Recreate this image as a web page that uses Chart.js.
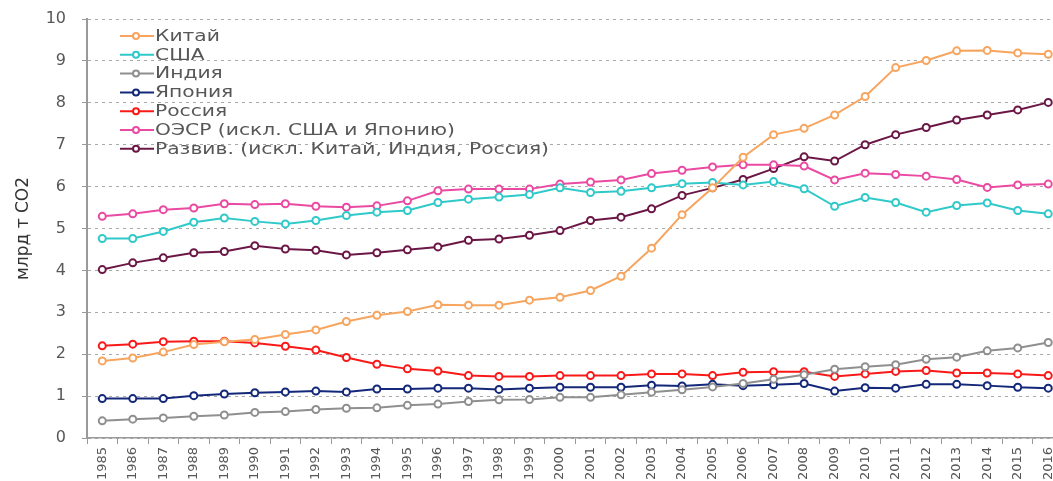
<!DOCTYPE html>
<html lang="ru">
<head>
<meta charset="utf-8">
<title>Выбросы CO2</title>
<script src="https://cdn.jsdelivr.net/npm/chart.js@4.4.1/dist/chart.umd.min.js"></script>
<style>
    html, body { margin: 0; padding: 0; background: #fff; overflow: hidden; }
    #caja { width: 1069px; height: 481px; }
</style>
</head>
<body>
<div id="caja"><canvas id="chart-co2"></canvas></div>
<script>
const anios = [
    "1985", "1986", "1987", "1988", "1989", "1990", "1991", "1992",
    "1993", "1994", "1995", "1996", "1997", "1998", "1999", "2000",
    "2001", "2002", "2003", "2004", "2005", "2006", "2007", "2008",
    "2009", "2010", "2011", "2012", "2013", "2014", "2015", "2016",
];
const kitai = [1.84, 1.91, 2.05, 2.23, 2.30, 2.35, 2.47, 2.58, 2.78, 2.93, 3.02, 3.18, 3.17, 3.17, 3.29, 3.36,
    3.52, 3.86, 4.53, 5.33, 5.97, 6.70, 7.24, 7.39, 7.71, 8.15, 8.84, 9.01, 9.24, 9.25, 9.19, 9.16];
const ssha = [4.76, 4.76, 4.93, 5.15, 5.25, 5.17, 5.11, 5.19, 5.31, 5.39, 5.43, 5.62, 5.70, 5.75, 5.81, 5.97,
    5.86, 5.89, 5.97, 6.07, 6.10, 6.04, 6.12, 5.95, 5.53, 5.74, 5.62, 5.39, 5.55, 5.61, 5.43, 5.35];
const indiya = [0.41, 0.45, 0.48, 0.52, 0.55, 0.61, 0.63, 0.68, 0.71, 0.72, 0.78, 0.81, 0.87, 0.91, 0.92, 0.97,
    0.97, 1.03, 1.09, 1.15, 1.22, 1.30, 1.40, 1.51, 1.64, 1.70, 1.75, 1.88, 1.93, 2.08, 2.15, 2.28];
const yaponiya = [0.94, 0.94, 0.94, 1.01, 1.05, 1.08, 1.10, 1.12, 1.10, 1.17, 1.17, 1.19, 1.19, 1.16, 1.19, 1.21,
    1.21, 1.21, 1.26, 1.24, 1.28, 1.25, 1.27, 1.30, 1.12, 1.20, 1.19, 1.28, 1.28, 1.25, 1.21, 1.19];
const rossiya = [2.20, 2.24, 2.30, 2.31, 2.31, 2.27, 2.19, 2.10, 1.92, 1.76, 1.65, 1.60, 1.49, 1.47, 1.47, 1.49,
    1.49, 1.49, 1.53, 1.53, 1.49, 1.57, 1.58, 1.58, 1.47, 1.53, 1.59, 1.61, 1.55, 1.55, 1.53, 1.49];
const oesr = [5.29, 5.35, 5.45, 5.49, 5.59, 5.57, 5.59, 5.53, 5.51, 5.54, 5.66, 5.90, 5.94, 5.94, 5.94, 6.06,
    6.11, 6.16, 6.31, 6.39, 6.47, 6.52, 6.52, 6.49, 6.16, 6.32, 6.29, 6.25, 6.17, 5.98, 6.04, 6.06];
const razviv = [4.02, 4.18, 4.30, 4.42, 4.45, 4.59, 4.51, 4.48, 4.37, 4.42, 4.49, 4.56, 4.72, 4.75, 4.84, 4.95,
    5.19, 5.27, 5.47, 5.79, 5.97, 6.17, 6.43, 6.71, 6.61, 7.00, 7.24, 7.41, 7.59, 7.71, 7.83, 8.01];
const yTicks = [0, 1, 2, 3, 4, 5, 6, 7, 8, 9, 10];

const gris = "#575757";

function serie(label, data, color) {
    return {
        label: label,
        data: data,
        borderColor: color,
        backgroundColor: "#fff",
        borderWidth: 2,
        tension: 0,
        pointRadius: 3.5,
        pointHoverRadius: 3.5,
        pointBorderWidth: 2,
        pointBackgroundColor: "#fff",
        pointBorderColor: color,
    };
}

// leyenda dentro del area, linea + circulo como en el original
const leyendaPlugin = {
    id: "leyendaLineas",
    afterDraw(chart) {
        const ctx = chart.ctx;
        const area = chart.chartArea;
        ctx.save();
        ctx.font = "15px 'DejaVu Sans'";
        ctx.textBaseline = "middle";
        ctx.textAlign = "left";
        chart.data.datasets.forEach((ds, i) => {
            const y = area.top + 17 + i * 18.8;
            const x = area.left + 33;
            ctx.strokeStyle = ds.borderColor;
            ctx.lineWidth = 2;
            ctx.beginPath();
            ctx.moveTo(x, y);
            ctx.lineTo(x + 34, y);
            ctx.stroke();
            ctx.beginPath();
            ctx.arc(x + 16, y, 3, 0, Math.PI * 2);
            ctx.fillStyle = "#fff";
            ctx.fill();
            ctx.stroke();
            // el texto original sale ensanchado
            ctx.save();
            ctx.translate(x + 35, y + 1);
            ctx.scale(1.35, 1);
            ctx.fillStyle = gris;
            ctx.fillText(ds.label, 0, 0);
            ctx.restore();
        });
        ctx.restore();
    },
};

const ctx = document.getElementById("chart-co2").getContext("2d");
new Chart(ctx, {
    type: "line",
    data: {
        labels: anios,
        datasets: [
            serie("Китай", kitai, "#f7a55e"),
            serie("США", ssha, "#30c9c9"),
            serie("Индия", indiya, "#8f8f8f"),
            serie("Япония", yaponiya, "#14287a"),
            serie("Россия", rossiya, "#fa1919"),
            serie("ОЭСР (искл. США и Японию)", oesr, "#ea4aa2"),
            serie("Развив. (искл. Китай, Индия, Россия)", razviv, "#6b1746"),
        ],
    },
    options: {
        responsive: true,
        maintainAspectRatio: false,
        animation: false,
        layout: { padding: { top: 19, left: 0, right: 0, bottom: 0 } },
        plugins: {
            legend: { display: false },
            tooltip: { enabled: false },
        },
        scales: {
            x: {
                offset: true,
                grid: {
                    offset: true,
                    drawOnChartArea: false,
                    tickLength: 6,
                    color: "#9a9a9a",
                },
                border: { color: "#9a9a9a", width: 1.5 },
                ticks: {
                    color: gris,
                    font: { family: "DejaVu Sans", size: 13 },
                    minRotation: 90,
                    maxRotation: 90,
                    autoSkip: false,
                    padding: 3,
                },
                afterFit: (s) => { s.height = 43; },
            },
            y: {
                min: 0,
                max: 10,
                afterBuildTicks: (s) => { s.ticks = yTicks.map((v) => ({ value: v })); },
                grid: {
                    color: "#a8a8a8",
                    lineWidth: 1,
                    tickLength: 5,
                    tickColor: "#9a9a9a",
                },
                border: { color: "#9a9a9a", width: 2, dash: [3, 4] },
                ticks: {
                    color: gris,
                    font: { family: "DejaVu Sans", size: 16 },
                    padding: 16,
                },
                title: {
                    display: true,
                    text: "млрд т CO2",
                    color: "#333",
                    font: { family: "DejaVu Sans", size: 17 },
                    padding: { top: 13, bottom: 0 },
                },
                afterFit: (s) => {
                    s.width = 87;
                    s.paddingTop = 9;
                    s.paddingBottom = 9;
                },
            },
        },
    },
    plugins: [leyendaPlugin],
});
</script>
</body>
</html>
